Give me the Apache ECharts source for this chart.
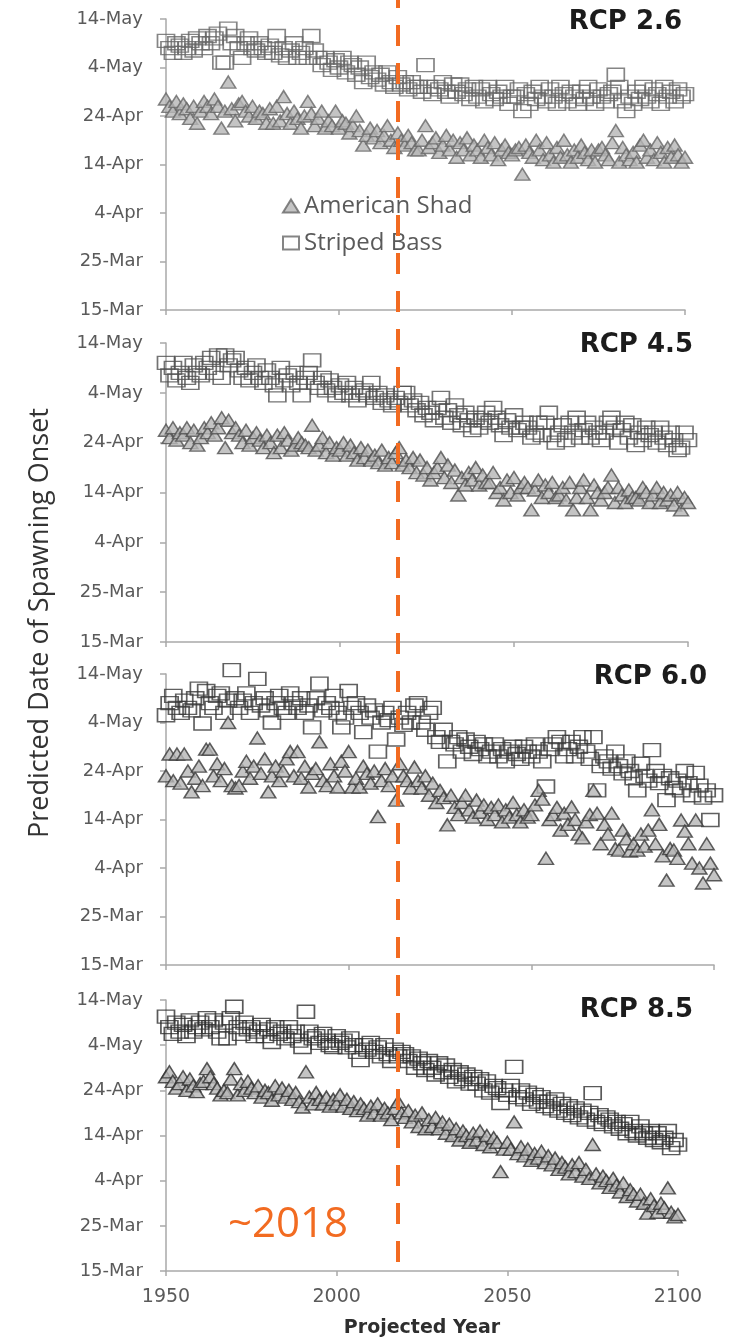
<!DOCTYPE html>
<html>
<head>
<meta charset="utf-8">
<script src="https://cdn.jsdelivr.net/npm/echarts@6/dist/echarts.min.js"></script>
<style>
html,body{margin:0;padding:0;background:#fff;}
#chart{width:731px;height:1339px;}
</style>
</head>
<body>
<div id="chart"></div>
<script>
// ---- DATA (values = days after 15-Mar) ----
const yearStart = 1950;
const yearEnd = 2100;
const dateTicks = ['15-Mar','25-Mar','4-Apr','14-Apr','24-Apr','4-May','14-May'];
const panelNames = ['RCP 2.6','RCP 4.5','RCP 6.0','RCP 8.5'];
const shadName = 'American Shad';
const bassName = 'Striped Bass';
const markYear = 2018;

const bass26 = [
55.5,54,53,55,54.5,53,54,55.5,53.5,56,
55,54,56.5,55,56,57,51,51,58,55,
56.5,54,52,55,56,54,53.5,55,54,53,
54.5,53,56.5,52.5,54,52,53.5,55,52,53,
54,52,56.5,53.5,52,50.5,52,51,49.5,51.5,
50,52,49,51,50.5,48.5,50,47,51,48,
49,47.5,48.5,46.5,49,47,46,48,46.5,47,
45.5,47,46,46,45,50.5,46,44.5,46,45.5,
47,45,44,46.5,45,46.5,44.5,45.5,43.5,46,
44,45.5,43,46,44.5,43.5,45,44,46,42.5,
44,44,45.5,41,44.5,42.5,45,43.5,46,44,
43,45.5,44,42.5,46,44.5,43,45,44,42.5,
45,43.5,46,44,42.5,45.5,44,43,44.5,45,
48.5,46,43,41,44,42.5,45,43.5,46,44,
43,45.5,44.5,42.5,46,44,45,43,45.5,44,
44.5];
const shad26 = [
43.5,42,41,43,40.5,42.5,41.5,39.5,42,38.5,
41,43,42,40.5,43.5,42,37.5,41,47,41.5,
39,42.5,43,41,40,42,39.5,41,40.5,38.5,
41.5,38.5,42,39,44,40.5,38.5,41,39.5,37.5,
40,43,40.5,38,39.5,41,37.5,39,38,41,
37.5,39,38.5,36.5,38,40,37,34,36,37.5,
35.5,37,34.5,36,38,35,33.5,36.5,35,34,
36,34.5,33,33,35,38,33.5,34.5,35.5,32.5,
34,36,33,35,31.5,34.5,33,35.5,32,34,
33,31.5,35,33.5,32,34.5,31,33,34,32.5,
32,33,33.5,28,34,32.5,31.5,35,33,31,
34.5,32,30.5,33.5,31.5,35,32,30.5,33,31.5,
34,32.5,31,33,30.5,33,33.5,32,31,34.5,
37,30.5,33.5,32,31,32.5,30.5,34,35,31.5,
33,31,34.5,32.5,30.5,33.5,31.5,34,32,30.5,
31.5];
const bass45 = [
56,53.5,55,52.5,54,56,53,52,55.5,54,
53.5,56,55,57,54,57.5,53,57.5,55.5,56.5,
57,54.5,53,55,52.5,54,55.5,53,52,54.5,
53,51.5,49.5,55,52.5,53.5,51.5,54,52,49.5,
53,54,56.5,52,51,53,50.5,52.5,51,49.5,
51.5,50,52,49.5,51,48.5,50,50.5,49.5,52,
49,50,48,49.5,48.5,47.5,49,48,50,50,
47.5,48.5,46.5,48,45.5,47,46,44.5,47,49,
45,46.5,44,47.5,45.5,43.5,46,44.5,42.5,45,
43,44.5,46,44,47,45,43.5,41.5,44.5,43,
45.5,42.5,43,44,43,41,42,44,41.5,44,
46,41.5,40,42,43.5,40.5,44,42,45,41,
42.5,44,41,43,42,40.5,42,44,45,43,
40,42.5,44,41,43.5,39.5,42,40.5,43,41.5,
42,40,43,41,39.5,42,40.5,38.5,39,42,
40.5];
const shad45 = [
42.5,41,43,40.5,42,41.5,43,40,42.5,39.5,
41,43,42,44,41.5,43,45,39,44.5,42,
43,41.5,40,42.5,39.5,41,42,40.5,39,41.5,
40,38,41.5,39,42,40.5,38.5,39.5,41,40,
39.5,39,43.5,38.5,39.5,41,38,40,37.5,39,
38.5,40,37.5,39.5,38,36.5,39,37,38.5,36.5,
37.5,36,38.5,35.5,37,36,38,39,35.5,36.5,
35,37,34,36.5,33.5,35,32.5,34,35,37,
33,35.5,32,34.5,29.5,33,31.5,34,32.5,35,
31.5,33.5,32,32,34,30,31,28.5,32.5,30,
33,29.5,31,32,31,26.5,30.5,32.5,29,31.5,
30,32,29,29.5,31,28.5,32,26.5,29,31,
32.5,29,26.5,31.5,30,28.5,30,31,33.5,28,
31,29.5,28,30.5,29,29,28.5,31,30,28,
29.5,31,28,30,28.5,29.5,27.5,30,26.5,29,
28];
const bass60 = [
51.5,54,55.5,53,52,54.5,53,52.5,55,57,
49.8,56.5,54,53,55.5,56,52,54.5,60.8,55,
53,54.5,56,52,54,59,53.5,55,52.5,50,
54,55.5,53,52,56,54,53,55,52,53.5,
49,55,58,52.5,54,53,55.5,52,49,51,
56.5,53,54,52,48,53.5,51,52.5,44,50,
52,50.5,53,46.5,51,49.5,52,50,53.5,54,
50,48.5,52,53,47,46,48.5,42,46,45.5,
47,44,46.5,45,43.5,46,44.5,45.5,43,44,
45.5,43,44.5,42,44,45,43.5,42.5,45,44,
43,45.5,44,42,36.8,44.5,45.5,47,46,43,
44.5,46,43,45,47,44,42.5,47,36,41,
43,42,40.5,44,41,39.5,42,40,38.5,36,
41.5,39,38,44.3,40,37.5,39,34,38.5,36.5,
38,36,40,37.5,35,39.6,37,34.5,36,29.9,
35];
const shad60 = [
39,43.5,38,43.5,37.5,43.5,40,35.7,38.5,41,
37,44.5,44.5,39,41.5,38,40.5,50,37,36.5,
37,40,42,38.5,41,46.8,39.5,42.5,35.7,39,
41,38,40,42.5,44,39,44,38.5,41,36.7,
39.5,40.5,46,38,37,41.5,39,36.7,42,40,
44,36.7,38.5,36.7,41,39.5,37.5,40,30.6,38,
40.5,37,39,34,41.5,39,38,36.5,40.8,38,
36.5,39,35,37.5,33.5,36,34.5,28.9,35,32.5,
31,33.5,35,32,30.5,34,31.5,33,30,32.5,
31,33,29.5,32,30.5,33.5,31,29.5,32,30.5,
31,33,36,34.2,22,30,31,32.5,27.8,31.3,
29,32.6,30,27,26.2,29.5,31,36,31.3,25,
29,27,31.3,24,23.7,27.8,26,23.5,25,23.7,
27,24.5,27.8,32,25,29,22.5,17.5,24,23.7,
22,29.9,27.6,25,21,29.9,20,16.9,25,21,
18.6];
const bass85 = [
56.3,54,52.5,55,53,54.5,52,55.5,53,54,
55,53.5,56,54,55.5,53,51.5,55,51.5,56,
58.5,54,52.5,55,53.5,54,52,53,54.5,52,
53.5,50.7,54,52.5,53,51.5,54,52,53,51,
49.6,57.4,53,51.5,52,50.5,52.5,51,50,49.6,
52,50.5,51,49.5,51.5,50,48.5,46.7,50,49,
50.5,48.5,49.5,47.5,50,48,46.5,49,47.5,48.5,
48,46.5,47.5,45,47,46,44.5,46.5,45,43.5,
46,44,45.5,43,44.5,42,44,42.5,43.5,41.5,
43,41.5,42.5,40,42,39.5,41,40.5,37.2,40,
39,41,45.2,38.5,40,38,39.5,37,39,37.5,
38.5,36.5,37.5,36,38,35.5,37,35,36.5,34.5,
36,34,35.5,33.5,35,39.4,33,34.5,32.5,34,
33.5,32,33,31.5,32.5,30.5,33,31,30,32,
30.5,29.5,31,29,30.5,28.5,29.5,31,27.2,29,
28];
const shad85 = [
43,44.1,42,40.5,41.5,43,40,42.5,41,39.7,
41.5,42,44.8,43,41.5,40.5,39,40,39.5,42.5,
44.8,39,41.5,40,42,40.5,39.5,41,38.5,40,
39.5,37.8,41,39,40.5,38.5,40,38,39.5,37.5,
36.3,44.1,38.5,37,39.5,38,37,38.5,36.5,38,
37,39,36.5,38,36,37.5,35.5,37,36,34.5,
36.5,35,37,34.5,36,35,33.5,36,37.5,35,
34,35.5,33,34.5,32,35,31.5,33.5,32,34,
31.5,33,30.5,32.5,30,31.5,29,31,30,28.5,
30.5,29,31,28,30,27.5,29.5,28.5,22,27,
28.5,27,33,26,27.5,25.5,27,24.5,26,25,
26.5,24,25.5,23.5,25,22.5,24,23,21.5,23.5,
22,24,21,22.5,20.5,28,21.5,19.5,21,20,
18.5,20.5,19,17.5,19.5,16.5,18,17,15.5,17,
15,12.8,16,14.5,13,15,14,18.4,13,12,
12.5];

// ---- LAYOUT / STYLE ----
const shadSets = [shad26, shad45, shad60, shad85];
const bassSets = [bass26, bass45, bass60, bass85];
const layout = [
  {top: 19,   height: 291, width: 519, titleRight: 49, titleTop: 9,   stroke: '#666666'},
  {top: 343,  height: 299, width: 522, titleRight: 38, titleTop: 332, stroke: '#505050'},
  {top: 674,  height: 291, width: 548, titleRight: 24, titleTop: 664, stroke: '#383838'},
  {top: 1000, height: 271, width: 512, titleRight: 38, titleTop: 997, stroke: '#303030'}
];
const axisGray = '#a9a9a9';
const labelGray = '#5a5a5a';
const orange = '#F26B21';

const years = [];
for (let y = yearStart; y <= yearEnd; y++) years.push(y);

const grids = [], xAxes = [], yAxes = [], series = [], titles = [];
layout.forEach((L, i) => {
  grids.push({left: 166, top: L.top, width: L.width, height: L.height, outerBoundsMode: 'none', containLabel: false});
  xAxes.push({
    gridIndex: i, type: 'value', min: yearStart, max: yearEnd, interval: 50,
    axisLine: {show: true, lineStyle: {color: axisGray, width: 1.5}},
    axisTick: {show: true, length: 5, lineStyle: {color: axisGray, width: 1.5}},
    splitLine: {show: false},
    axisLabel: {show: i === 3, margin: 17, color: labelGray, fontSize: 19, fontFamily: 'DejaVu Sans',
                formatter: v => String(v)},
    name: i === 3 ? 'Projected Year' : '',
    nameLocation: 'middle', nameGap: 48,
    nameTextStyle: {fontFamily: 'DejaVu Sans', fontWeight: 'bold', fontSize: 19, color: '#2e2e2e'}
  });
  yAxes.push({
    gridIndex: i, type: 'value', min: 0, max: 60, interval: 10,
    axisLine: {show: true, lineStyle: {color: axisGray, width: 1.5}},
    axisTick: {show: true, length: 6, lineStyle: {color: axisGray, width: 1.5}},
    splitLine: {show: false},
    axisLabel: {margin: 23, color: labelGray, fontSize: 18, fontFamily: 'DejaVu Sans',
                formatter: v => dateTicks[Math.round(v / 10)]}
  });
  titles.push({
    text: panelNames[i], right: L.titleRight, top: L.titleTop, padding: 0,
    textStyle: {fontFamily: 'DejaVu Sans', fontWeight: 'bold', fontSize: 26, lineHeight: 26, color: '#1c1c1c'}
  });
  series.push({
    type: 'scatter', name: bassName, xAxisIndex: i, yAxisIndex: i,
    data: years.map((yr, k) => [yr, bassSets[i][k]]),
    symbol: 'rect', symbolSize: [17, 13], clip: false, silent: true,
    itemStyle: {color: 'rgba(255,255,255,0)', borderColor: L.stroke, borderWidth: 1.5},
    emphasis: {disabled: true}
  });
  series.push({
    type: 'scatter', name: shadName, xAxisIndex: i, yAxisIndex: i,
    data: years.map((yr, k) => [yr, shadSets[i][k]]),
    symbol: 'triangle', symbolSize: [15, 12], clip: false, silent: true,
    itemStyle: {color: '#b5b5b5', borderColor: L.stroke, borderWidth: 1.5},
    emphasis: {disabled: true}
  });
});

// overlay grid for the ~2018 dashed marker (same year scale as the bottom panel)
grids.push({left: 166, top: 0, width: 512, height: 1262, outerBoundsMode: 'none'});
xAxes.push({gridIndex: 4, type: 'value', min: yearStart, max: yearEnd, show: false});
yAxes.push({gridIndex: 4, type: 'value', min: 0, max: 1, show: false});
series.push({
  type: 'scatter', xAxisIndex: 4, yAxisIndex: 4, data: [], z: 10, silent: true,
  markLine: {
    silent: true, symbol: ['none', 'none'], animation: false,
    label: {show: false},
    lineStyle: {color: orange, width: 4, type: [21, 17], opacity: 1},
    emphasis: {disabled: true},
    data: [{xAxis: markYear}]
  }
});

const graphics = [
  {type: 'text', x: 40, y: 623, rotation: Math.PI / 2,
   style: {text: 'Predicted Date of Spawning Onset', textAlign: 'center', textVerticalAlign: 'middle',
           font: '27px "Open Sans"', fill: '#333333'}},
  {type: 'text', x: 228, y: 1225,
   style: {text: '~' + markYear, textAlign: 'left', textVerticalAlign: 'middle',
           font: '42px "Open Sans"', fill: orange}, z: 20}
];
const bad = [...shadSets, ...bassSets].map(a => a.length).filter(n => n !== years.length);
if (bad.length) graphics.push({type: 'text', x: 300, y: 600, style: {text: 'LEN ' + bad.join(','), fill: 'red', font: '20px sans-serif'}});

const chart = echarts.init(document.getElementById('chart'), null, {renderer: 'canvas'});
chart.setOption({
  animation: false,
  backgroundColor: '#ffffff',
  title: titles,
  grid: grids,
  xAxis: xAxes,
  yAxis: yAxes,
  legend: {
    left: 282, top: 194, orient: 'vertical', itemGap: 13, itemWidth: 16, itemHeight: 13, padding: 0,
    selectedMode: false,
    textStyle: {fontFamily: 'Open Sans', fontSize: 24, color: labelGray},
    data: [{name: shadName, icon: 'triangle'}, {name: bassName, icon: 'rect'}]
  },
  graphic: graphics,
  series: series
});
</script>
</body>
</html>
